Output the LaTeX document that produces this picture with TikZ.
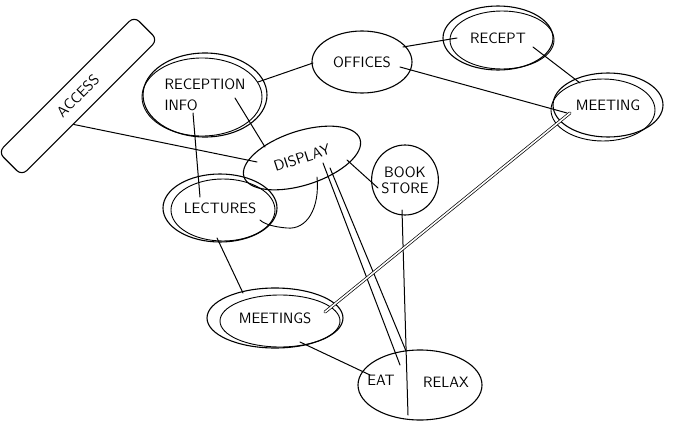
\documentclass[tikz,border=0pt]{standalone}
\usetikzlibrary{shapes.geometric,calc}
\begin{document}
\begin{tikzpicture}[x=1pt,y=-1pt,line width=1.1pt,line cap=round,line join=round,
  lbl/.style={font=\sffamily\fontsize{15}{16}\selectfont},
  blob/.style={draw,ellipse,inner sep=0pt,lbl,align=center},
  band/.style={draw,rectangle,rounded corners=7pt,inner sep=0pt,lbl},
  link/.style={line width=1pt},
  twin/.style={line width=0.9pt},
  pair/.style={double,double distance=1.6pt,line width=0.7pt}]
\useasboundingbox (0,0) rectangle (678,423);
% nodes
\node[band,rotate=45,minimum width=192pt,minimum height=33pt] (access) at (78,96) {ACCESS};
\node[blob,minimum width=124pt,minimum height=84pt,align=left] (reception) at (205,95) {RECEPTION\\[5pt]INFO};
\node[blob,minimum width=100pt,minimum height=62pt] (offices) at (362,62) {OFFICES};
\node[blob,minimum width=110pt,minimum height=64pt] (recept) at (498,38) {RECEPT};
\node[blob,minimum width=110pt,minimum height=64pt] (meeting) at (608,105) {MEETING};
\node[blob,rotate=18,minimum width=122pt,minimum height=54pt] (display) at (302,158) {DISPLAY};
\node[blob,minimum width=66pt,minimum height=70pt] (bookstore) at (405,180) {BOOK\\STORE};
\node[blob,minimum width=114pt,minimum height=68pt] (lectures) at (220,208) {LECTURES};
\node[blob,minimum width=136pt,minimum height=60pt] (meetings) at (275,318) {MEETINGS};
\node[blob,minimum width=124pt,minimum height=70pt] (eatrelax) at (420,385) {};
\node[lbl] (eat) at (381,380) {EAT};
\node[lbl] (relax) at (446,382) {RELAX};
% second strokes of the doubled outlines
\draw[twin] ($(reception)+(-3,2)$) ellipse [x radius=60pt,y radius=39pt];
\draw[twin] ($(recept)+(4,2)$) ellipse [x radius=52pt,y radius=29pt];
\draw[twin] ($(meeting)+(-5,5)$) ellipse [x radius=52pt,y radius=31pt];
\draw[twin] ($(meetings)+(5,3)$) ellipse [x radius=60pt,y radius=26pt];
\draw[twin] ($(lectures)+(3,2)$) ellipse [x radius=52pt,y radius=31pt];
% lobe of the display outline
\draw[twin] ($(display)+(15,19)$) .. controls ($(display)+(18,50)$) and ($(display)+(5,72)$) .. ($(display)+(-15,70)$)
  .. controls ($(display)+(-28,69)$) and ($(display)+(-38,66)$) .. ($(display)+(-42,62)$);
% connectors
\draw[link] ($(access.south west)!0.38!(access.south east)$) -- ($(display)+(-45,4)$);
\draw[link] ($(reception)+(53,-13)$) -- ($(offices)+(-49,1)$);
\draw[link] ($(reception)+(30,3)$) -- ($(display)+(-37,-11)$);
\draw[link] ($(reception)+(-12,18)$) -- ($(lectures)+(-20,-11)$);
\draw[link] ($(offices)+(41,-15)$) -- ($(recept)+(-41,0)$);
\draw[link] ($(offices)+(38,5)$) -- ($(meeting)+(-41,8)$);
\draw[link] ($(recept)+(35,9)$) -- ($(meeting)+(-28,-22)$);
\draw[link] ($(display)+(45,2)$) -- ($(bookstore)+(-27,8)$);
\draw[link] ($(display)+(21,5)$) -- ($(eatrelax)+(-20,-20)$);
\draw[link] ($(display)+(28,10)$) -- ($(eatrelax)+(-14,-34)$);
\draw[link] ($(bookstore)+(-3,30)$) -- ($(eatrelax)+(-12,30)$);
\draw[pair] ($(meeting)+(-38,8)$) -- ($(meetings)+(50,-6)$);
\draw[link] ($(lectures)+(-3,30)$) -- ($(meetings)+(-32,-25)$);
\draw[link] ($(meetings)+(25,24)$) -- ($(eatrelax)+(-50,-10)$);
\end{tikzpicture}
\end{document}
